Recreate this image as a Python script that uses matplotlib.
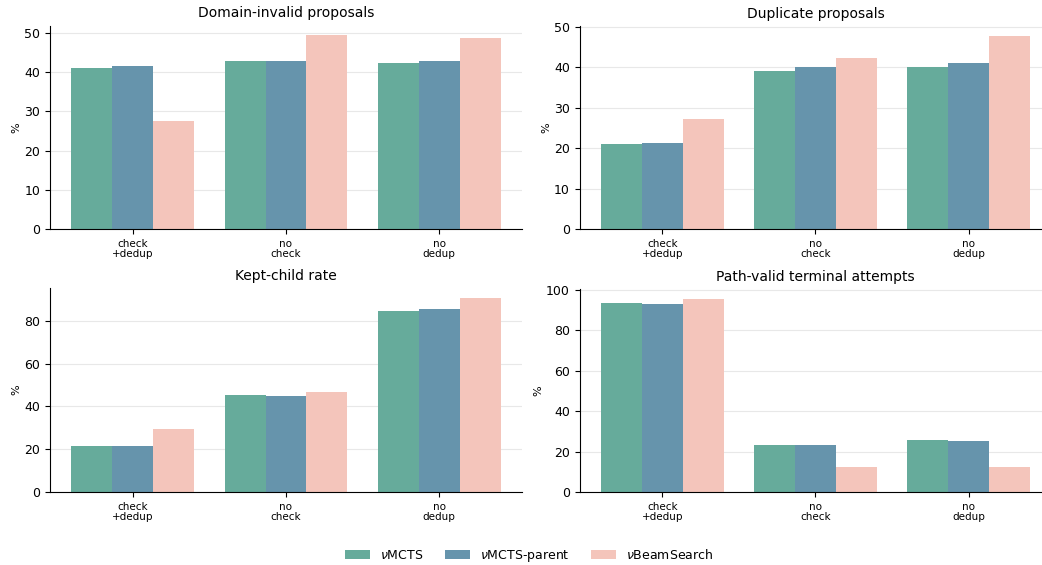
import matplotlib
matplotlib.use("Agg")
import matplotlib.pyplot as plt
import numpy as np

categories = ["check\n+dedup", "no\ncheck", "no\ndedup"]
series_names = [r"$\nu$MCTS", r"$\nu$MCTS-parent", r"$\nu$BeamSearch"]
colors = ["#66ab9b", "#6694ac", "#f4c5bb"]

titles = ["Domain-invalid proposals", "Duplicate proposals",
          "Kept-child rate", "Path-valid terminal attempts"]

domain_invalid = [[40.9, 42.7, 42.4], [41.4, 42.9, 42.7], [27.6, 49.3, 48.6]]
duplicate = [[21.0, 39.0, 40.0], [21.3, 40.0, 41.0], [27.2, 42.2, 47.7]]
kept_child = [[21.5, 45.3, 84.5], [21.5, 44.8, 85.4], [29.4, 46.7, 90.6]]
path_valid = [[93.6, 23.2, 25.6], [93.1, 23.2, 25.1], [95.6, 12.3, 12.3]]

panels = [domain_invalid, duplicate, kept_child, path_valid]

W, H = 1042, 565
fig = plt.figure(figsize=(W / 100, H / 100), dpi=100)

axw = 472
boxes = [
    (50.0, 25.7, 229.3),
    (579.5, 26.3, 229.3),
    (50.0, 288.3, 492.0),
    (579.5, 289.0, 492.0),
]

x = np.arange(len(categories))
bw = 0.8 / 3
for i, (data, title) in enumerate(zip(panels, titles)):
    l, t, b = boxes[i]
    ax = fig.add_axes([l / W, 1 - b / H, axw / W, (b - t) / H])
    for j, vals in enumerate(data):
        ax.bar(x + (j - 1) * bw, vals, bw, color=colors[j], label=series_names[j], zorder=2)
    ax.set_xticks(x)
    ax.set_xticklabels(categories, fontsize=7.5, linespacing=1.0)
    ax.tick_params(axis="y", labelsize=9)
    ax.set_ylabel("%", fontsize=8, labelpad=2)
    ax.set_title(title, fontsize=10)
    ax.grid(axis="y", color="#e8e8e8", linewidth=0.8, zorder=0)
    ax.set_axisbelow(True)
    ax.spines["top"].set_visible(False)
    ax.spines["right"].set_visible(False)
    ax.set_ylim(bottom=0)
    if i == 0:
        handles, labels = ax.get_legend_handles_labels()

fig.legend(handles, labels, loc="center", bbox_to_anchor=(529 / W, 1 - 556 / H),
           ncol=3, frameon=False, fontsize=9, columnspacing=1.7)

fig.savefig("out.png", dpi=100)
